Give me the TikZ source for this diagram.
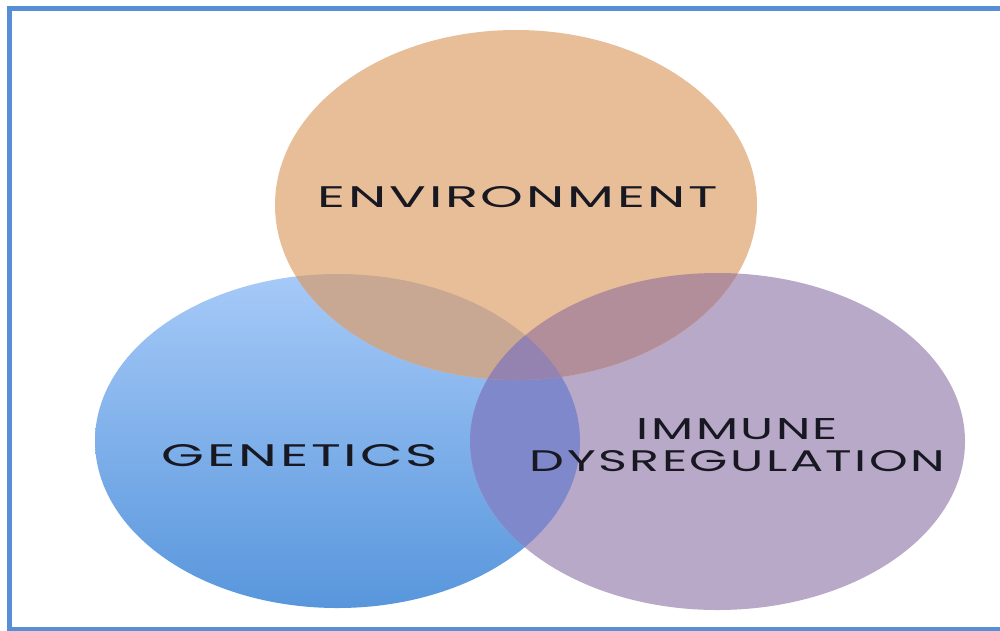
\documentclass[tikz,border=0pt]{standalone}
\usepackage{fontspec}
\usepackage{graphicx}
\newfontfamily\labelfont[LetterSpace=5]{Poppins}

% circle fills
\definecolor{envfill}{RGB}{232,190,152}
\definecolor{gentop}{RGB}{166,202,248}
\definecolor{genbot}{RGB}{88,150,220}
\definecolor{immfill}{RGB}{185,169,201}
% overlap fills
\definecolor{envgen}{RGB}{200,168,146}
\definecolor{envimm}{RGB}{178,141,154}
\definecolor{genimm}{RGB}{126,136,202}
\definecolor{allthree}{RGB}{148,130,176}
% text and frame
\definecolor{labelink}{RGB}{24,24,34}
\definecolor{framecol}{RGB}{88,142,214}

\tikzset{
  envR/.style={x radius=241, y radius=175},
  genR/.style={x radius=242.5, y radius=167},
  immR/.style={x radius=247.5, y radius=168.5},
  lbl/.style={inner sep=0pt, text=labelink, font=\labelfont},
  frame/.style={draw=framecol, line width=5pt}
}

\begin{document}
\begin{tikzpicture}[x=1pt, y=-1pt]
  \useasboundingbox (0,0) rectangle (1000,630);
  \fill[white] (0,0) rectangle (1000,630);

  % centres of the three sets
  \coordinate (env) at (516,205);
  \coordinate (gen) at (337.5,441);
  \coordinate (imm) at (717.5,441.5);

  % the three sets
  \shade[top color=gentop, bottom color=genbot] (gen) ellipse [genR];
  \fill[immfill] (imm) ellipse [immR];
  \fill[envfill] (env) ellipse [envR];

  % pairwise overlaps
  \begin{scope}
    \clip (gen) ellipse [genR];
    \fill[genimm] (imm) ellipse [immR];
  \end{scope}
  \begin{scope}
    \clip (env) ellipse [envR];
    \fill[envgen] (gen) ellipse [genR];
  \end{scope}
  \begin{scope}
    \clip (env) ellipse [envR];
    \fill[envimm] (imm) ellipse [immR];
  \end{scope}
  % centre region shared by all three
  \begin{scope}
    \clip (env) ellipse [envR];
    \clip (gen) ellipse [genR];
    \fill[allthree] (imm) ellipse [immR];
  \end{scope}

  % labels
  \node[lbl] (envtxt) at (518,197.5) {\resizebox{400pt}{21pt}{ENVIRONMENT}};
  \node[lbl] (gentxt) at (300,456) {\resizebox{276pt}{22pt}{GENETICS}};
  \node[lbl] (immtxt1) at (737.5,429.5) {\resizebox{201pt}{21pt}{IMMUNE}};
  \node[lbl] (immtxt2) at (737.5,461) {\resizebox{415pt}{21pt}{DYSREGULATION}};

  % slide frame: top, left and bottom sides
  \coordinate (frameTR) at (1000,8);
  \coordinate (frameTL) at (9,8);
  \coordinate (frameBL) at (9,629);
  \coordinate (frameBR) at (1000,629);
  \draw[frame] (frameTR) -- (frameTL) -- (frameBL) -- (frameBR);
\end{tikzpicture}
\end{document}
